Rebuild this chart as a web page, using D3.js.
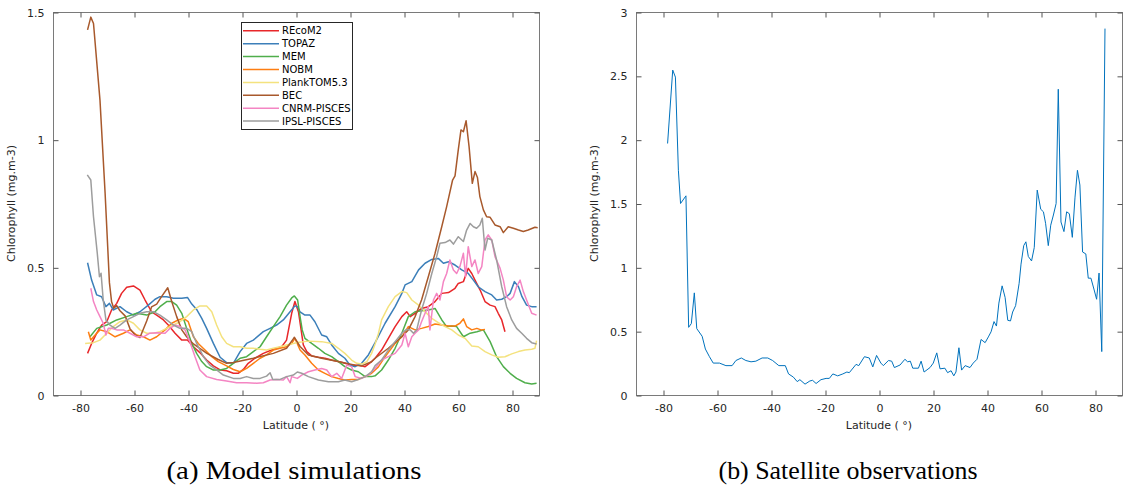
<!DOCTYPE html>
<html><head><meta charset="utf-8">
<script src="https://cdn.jsdelivr.net/npm/d3@7"></script>
<style>
html,body{margin:0;padding:0;background:#fff;}
svg{display:block;}
text{font-family:"DejaVu Sans",sans-serif;}
</style></head>
<body>
<svg id="chart" width="1126" height="493"></svg>
<script>
// ---------- data ----------
const seriesNames = ["REcoM2","TOPAZ","MEM","NOBM","PlankTOM5.3","BEC","CNRM-PISCES","IPSL-PISCES"];
const seriesColors = ["#e8272a","#3c7fb9","#4fae4b","#fd7e12","#f4e27e","#a8592c","#f485c3","#9d9d9d"];
const xTicks = [-80,-60,-40,-20,0,20,40,60,80];
const yTicksLeft = [0,0.5,1,1.5];
const yTicksRight = [0,0.5,1,1.5,2,2.5,3];
const yLabel = "Chlorophyll (mg.m-3)";
const xLabel = "Latitude ( °)";
const captions = ["(a) Model simulations","(b) Satellite observations"];

const RECOM2 = [[-77.2,.163],[-75.7,.202],[-73.8,.242],[-72,.274],[-70.1,.287],[-68.3,.333],[-66.4,.359],[-64.6,.398],[-62.7,.422],[-60.2,.427],[-57.8,.411],[-55.9,.372],[-53.5,.326],[-51.6,.313],[-49.1,.294],[-47.3,.274],[-44.8,.242],[-42.3,.215],[-40.2,.215],[-38,.189],[-35.6,.166],[-33.1,.137],[-30.6,.114],[-28.1,.098],[-25.7,.095],[-23.2,.085],[-21.4,.085],[-19.5,.1],[-17.7,.124],[-15.2,.144],[-12.1,.163],[-8.4,.179],[-5.3,.189],[-3.5,.215],[-1.6,.32],[-0.4,.366],[0.9,.326],[1.9,.255],[2.7,.196],[4,.17],[5.8,.153],[8.3,.148],[10.7,.144],[13.2,.137],[15.7,.131],[18.1,.124],[20.6,.117],[23.1,.117],[25.6,.111],[28,.131],[29.3,.144],[31.7,.176],[34.2,.222],[36.7,.268],[39.2,.307],[41,.326],[42.3,.307],[44.1,.32],[46.5,.339],[49,.346],[51.5,.366],[54,.398],[56.5,.401],[58.9,.418],[60.1,.437],[62,.444],[63.8,.496],[65.1,.476],[66.3,.45],[68.2,.411],[70,.366],[71.9,.352],[73.7,.346],[74.9,.32],[76.2,.294],[77.4,.248]];
const TOPAZ = [[-77.2,.518],[-75.7,.45],[-73.8,.392],[-72,.385],[-70.4,.346],[-69.1,.359],[-67.7,.333],[-65.2,.346],[-62.7,.326],[-60.2,.313],[-57.8,.326],[-54.7,.352],[-52.2,.375],[-50.4,.385],[-47.9,.385],[-45.4,.379],[-42.3,.379],[-40.2,.382],[-38.6,.356],[-36.8,.335],[-34.9,.3],[-33.1,.261],[-30.6,.202],[-28.1,.148],[-25.7,.127],[-23.2,.124],[-20.7,.17],[-18.3,.202],[-15.8,.215],[-12.1,.248],[-9.6,.261],[-7.2,.274],[-4.7,.294],[-2.2,.326],[-0.4,.349],[0.5,.346],[1.5,.326],[3.3,.313],[5.2,.313],[7,.287],[9.5,.235],[11.4,.228],[13.2,.196],[15.7,.163],[18.1,.144],[20,.117],[21.9,.111],[24.3,.124],[26.8,.157],[29.3,.205],[33,.281],[36.7,.346],[39.2,.398],[40.4,.431],[42.9,.444],[45.4,.49],[47.8,.516],[50.3,.531],[52.7,.535],[54.6,.516],[56.5,.522],[58.9,.509],[61.4,.49],[63.8,.476],[65.7,.45],[67.5,.424],[70,.405],[72.5,.392],[74.3,.372],[76.2,.375],[78,.385],[79.3,.398],[80.9,.444],[82.4,.424],[83.7,.385],[85.4,.352],[87.3,.346],[89.1,.346]];
const MEM = [[-76.3,.228],[-73.8,.261],[-70.1,.274],[-66.4,.294],[-62.7,.307],[-59,.32],[-55.3,.313],[-52.2,.326],[-50.4,.346],[-47.9,.366],[-46,.366],[-44.2,.352],[-42.3,.32],[-40.5,.261],[-38.6,.202],[-36.8,.163],[-34.9,.131],[-33.1,.111],[-30.6,.098],[-28.1,.098],[-25.7,.104],[-23.2,.124],[-20.7,.144],[-18.3,.15],[-15.8,.17],[-13.3,.189],[-10.9,.228],[-8.4,.268],[-5.9,.307],[-3.5,.352],[-1.6,.38],[-0.6,.388],[0.6,.372],[1.5,.307],[2.3,.255],[3.3,.222],[5.8,.202],[8.3,.183],[10.7,.163],[13.2,.15],[15.7,.131],[18.1,.111],[20.6,.098],[23.1,.091],[25.6,.072],[28,.072],[29.3,.075],[31.7,.098],[34.2,.137],[36.7,.183],[39.2,.242],[41.6,.307],[44.1,.326],[46.5,.33],[49,.333],[51.5,.339],[54,.294],[55.8,.268],[57.7,.27],[59.5,.268],[62,.228],[64.5,.242],[67,.248],[69.4,.255],[71.9,.209],[74.3,.15],[76.8,.111],[79.3,.085],[81.7,.065],[84.8,.048],[87.3,.043],[89.1,.046]];
const NOBM = [[-76.9,.248],[-76,.215],[-74.4,.235],[-72.6,.255],[-70.1,.248],[-67,.228],[-63.9,.242],[-61.5,.255],[-59,.235],[-56.5,.228],[-54.1,.215],[-51.6,.228],[-48.5,.255],[-46,.281],[-43.6,.294],[-41.7,.3],[-39.9,.287],[-38,.228],[-36.2,.202],[-33.7,.176],[-31.2,.15],[-28.8,.131],[-25.7,.114],[-23.2,.1],[-20.7,.091],[-18.3,.104],[-15.8,.124],[-13.3,.144],[-10.9,.157],[-8.4,.176],[-5.9,.183],[-3.5,.189],[-1.6,.202],[-0.4,.222],[1.5,.176],[3.3,.157],[5.8,.124],[8.3,.098],[10.7,.085],[13.2,.072],[15.7,.065],[18.1,.059],[20.6,.061],[23.1,.061],[25.6,.072],[28,.085],[30.5,.11],[33,.15],[36.7,.202],[39.2,.228],[41.6,.268],[44.1,.255],[46.5,.261],[49,.268],[51.5,.278],[54,.274],[56.5,.27],[58.9,.27],[60.7,.281],[62,.298],[63.2,.268],[65.1,.255],[67,.261],[68.5,.255],[70,.257]];
const PLANKTOM = [[-78.1,.202],[-75,.205],[-72.6,.215],[-70.1,.242],[-67.7,.268],[-65.2,.287],[-62.7,.294],[-60.2,.281],[-57.8,.255],[-55.3,.242],[-52.8,.242],[-50.4,.248],[-47.9,.261],[-45.4,.274],[-43,.287],[-40.5,.307],[-38,.333],[-35.6,.349],[-33.1,.349],[-31.2,.326],[-29.4,.274],[-27.5,.228],[-25.7,.202],[-23.2,.189],[-20.7,.189],[-18.3,.183],[-15.8,.183],[-13.3,.179],[-10.9,.176],[-8.4,.183],[-5.9,.189],[-3.5,.196],[-1,.202],[0.5,.206],[4.6,.211],[9.5,.209],[13.2,.202],[15.7,.183],[18.1,.163],[20.6,.137],[22.5,.124],[24.3,.121],[26.2,.13],[28,.163],[29.3,.2],[30.5,.24],[31.7,.294],[34.2,.346],[36.7,.385],[39.2,.405],[41,.401],[42.9,.372],[45.4,.352],[47.8,.326],[50.3,.3],[52.7,.283],[55.2,.268],[57.7,.255],[60.1,.235],[62.6,.222],[65.1,.192],[67.5,.189],[70,.17],[72.5,.157],[74.9,.148],[77.4,.15],[79.9,.161],[82.4,.17],[84.8,.176],[87.3,.179],[88.5,.183],[89.1,.213]];
const BEC = [[-77.2,1.43],[-76,1.48],[-75,1.455],[-72.6,1.155],[-70.7,.79],[-69.1,.44],[-68.3,.365],[-67.5,.34],[-66.4,.35],[-65.2,.33],[-63.3,.31],[-61.5,.26],[-59.6,.235],[-57.8,.225],[-55.3,.29],[-53.5,.345],[-51.6,.356],[-49.8,.385],[-47.5,.42],[-46,.365],[-44.2,.307],[-42.3,.255],[-40.5,.228],[-38,.2],[-33,.163],[-29,.14],[-25.7,.124],[-23.2,.127],[-15.8,.144],[-8.4,.163],[-3.5,.183],[-1,.22],[-0.6,.226],[1.5,.19],[4.6,.157],[9.5,.144],[16.9,.128],[21.9,.117],[24.3,.114],[28,.13],[29.3,.144],[34.2,.183],[39.2,.228],[41.6,.255],[44.1,.307],[46.5,.372],[49,.463],[51.5,.555],[54,.66],[55.8,.738],[58,.842],[58.9,.858],[60.1,.96],[61.1,1.038],[62,1.031],[63,1.074],[64.1,.973],[65.3,.829],[66.3,.875],[67.2,.852],[68.1,.777],[69.4,.725],[70.6,.698],[71.9,.696],[73.7,.666],[75.6,.659],[76.8,.636],[78.6,.659],[80.5,.653],[82.4,.646],[84.2,.64],[86,.646],[88.5,.657],[89.5,.655]];
const CNRM = [[-76,.418],[-75,.366],[-73.8,.333],[-72.6,.307],[-71.4,.281],[-70.4,.235],[-69.5,.261],[-68.3,.261],[-66.4,.255],[-63.9,.255],[-61.5,.242],[-59,.228],[-56.5,.228],[-54.1,.242],[-51.6,.244],[-48.5,.242],[-46.7,.261],[-44.8,.274],[-43,.268],[-41.1,.255],[-39.3,.209],[-37.4,.15],[-35.6,.098],[-33.1,.072],[-29.4,.061],[-25.7,.055],[-22,.048],[-18.3,.048],[-14.6,.046],[-12.1,.048],[-9.6,.059],[-7.2,.061],[-4.7,.059],[-3.5,.072],[-2.2,.048],[-1.6,.072],[0.5,.065],[2.1,.078],[4.6,.091],[7,.098],[9.5,.104],[11.4,.098],[13.2,.072],[15.1,.085],[16.9,.065],[18.8,.117],[20.6,.111],[21.9,.072],[24.3,.065],[26.8,.078],[29.3,.105],[31.7,.137],[34.2,.15],[36.7,.163],[39.2,.196],[40.4,.242],[41.6,.189],[42.9,.228],[44.1,.242],[45.4,.255],[46.5,.287],[47.8,.32],[49,.346],[49.6,.255],[50.9,.372],[52.1,.398],[53.3,.372],[54.6,.444],[55.8,.476],[57,.529],[58.3,.49],[59.5,.476],[60.7,.503],[62,.555],[62.8,.463],[63.8,.581],[65.1,.503],[66.3,.529],[67.5,.476],[68.8,.503],[70,.607],[71.2,.627],[72.5,.607],[73.7,.542],[75.6,.496],[76.8,.45],[78,.385],[79.3,.372],[80.5,.385],[81.7,.424],[83,.45],[84.2,.405],[85.4,.372],[87.3,.32],[89.1,.313]];
const IPSL = [[-77.3,.862],[-76,.842],[-75,.698],[-73.6,.555],[-72.8,.463],[-72.2,.477],[-71.4,.372],[-70.4,.294],[-68.9,.274],[-67,.261],[-65.2,.274],[-62.7,.294],[-60.2,.307],[-57.8,.32],[-55.3,.326],[-52.8,.326],[-50.4,.313],[-47.9,.294],[-45.4,.274],[-43,.261],[-40.5,.261],[-38.6,.248],[-36.8,.202],[-34.3,.15],[-31.9,.117],[-29.4,.098],[-26.9,.078],[-23.2,.065],[-20.7,.065],[-18.3,.072],[-15.8,.065],[-13.3,.065],[-10.9,.074],[-9.6,.087],[-8.6,.061],[-5.9,.061],[-3.5,.072],[-1,.078],[0.5,.09],[2.1,.085],[4.6,.072],[8.3,.059],[12,.052],[15.7,.052],[18.1,.059],[20.6,.052],[23.1,.061],[25.6,.072],[28,.091],[29.3,.115],[31.7,.137],[34.2,.176],[36.7,.209],[39.2,.242],[41,.257],[42.3,.255],[43.5,.242],[44.7,.255],[46.5,.333],[48.4,.398],[50.3,.476],[52.1,.542],[53.3,.594],[55.2,.597],[57,.607],[58.3,.591],[60.1,.62],[62,.601],[63.2,.646],[64.5,.672],[65.7,.659],[66.9,.653],[68.1,.666],[69,.692],[70,.568],[71,.614],[72.5,.607],[74.3,.529],[76.2,.424],[78,.346],[79.9,.294],[81.7,.261],[83.6,.242],[85.4,.222],[87.3,.205],[89.1,.2]];

const satLat = [-78.3,-76.4,-75.4,-74.3,-73.5,-71.5,-70.5,-69.5,-68.4,-67.5,-65.5,-64.3,-62.8,-61.4,-59.1,-56.7,-54.4,-53,-51,-49.3,-47.4,-45.6,-43.3,-41.2,-39.4,-37.1,-34.7,-33.5,-31.7,-30.3,-29.3,-27.4,-25.6,-24.6,-23.3,-21.5,-19.6,-18.4,-17.1,-15.3,-13.4,-11.9,-11,-8.5,-7.5,-5.4,-3.6,-2.3,-0.9,0.7,1.6,3.5,4.7,5.7,7.8,9.6,10.6,11.6,12.5,14.6,15.6,16.7,18.9,20.1,21.4,22.6,24.4,25.4,26.7,27.7,28.5,29.6,30.6,31.9,33.7,34.9,36.3,37.8,39.3,40.5,41.5,42.6,43.5,44.4,45.6,46.7,47.7,48.7,49.5,50.6,51.9,52.6,53.6,54.4,55.3,56.5,57.5,58.6,59.9,60.9,61.7,62.7,63.6,64.6,65.6,66.4,67.4,68.5,69.5,70.5,71.6,72.6,73.5,74.4,75.4,76.6,77.5,78.5,79.6,80.6,81.5,82.5,83.7];
const satVal = [1.97,2.545,2.49,1.76,1.50,1.56,0.53,0.56,0.80,0.52,0.46,0.36,0.30,0.25,0.25,0.23,0.23,0.27,0.29,0.27,0.26,0.265,0.29,0.29,0.27,0.23,0.23,0.165,0.14,0.105,0.12,0.085,0.11,0.115,0.09,0.12,0.13,0.13,0.165,0.15,0.165,0.18,0.175,0.24,0.23,0.30,0.29,0.22,0.31,0.25,0.23,0.27,0.265,0.215,0.235,0.28,0.26,0.265,0.21,0.21,0.265,0.18,0.215,0.25,0.33,0.205,0.21,0.175,0.19,0.15,0.18,0.37,0.195,0.23,0.215,0.25,0.28,0.435,0.41,0.455,0.495,0.575,0.54,0.72,0.855,0.765,0.585,0.58,0.65,0.70,0.875,1.025,1.17,1.20,1.085,1.05,1.155,1.605,1.455,1.435,1.345,1.17,1.33,1.41,1.50,2.395,1.355,1.28,1.435,1.42,1.235,1.55,1.76,1.645,1.12,1.105,0.915,0.915,0.83,0.75,0.955,0.34,2.87];

const modelSeries = [RECOM2, TOPAZ, MEM, NOBM, PLANKTOM, BEC, CNRM, IPSL];

// ---------- drawing ----------
const svg = d3.select("#chart");
const axisColor = "#262626";
const plotTop = 12, plotBottom = 395;
const fmtNum = d => String(d);

function drawAxes(xs, ys, yTicks) {
  const g = svg.append("g");
  const [x0, x1] = xs.range();
  g.append("rect").attr("x", x0 + 0.5).attr("y", plotTop + 0.5)
    .attr("width", x1 - x0).attr("height", plotBottom - plotTop)
    .attr("fill", "none").attr("stroke", "#7a7a7a").attr("stroke-width", 1);
  const bx = d3.axisBottom(xs).tickValues(xTicks).tickSize(-5).tickPadding(9).tickFormat(fmtNum);
  const tx = d3.axisTop(xs).tickValues(xTicks).tickSize(-5).tickFormat("");
  const ly = d3.axisLeft(ys).tickValues(yTicks).tickSize(-5).tickPadding(9).tickFormat(fmtNum);
  const ry = d3.axisRight(ys).tickValues(yTicks).tickSize(-5).tickFormat("");
  [[bx, `translate(0.5,${plotBottom + 0.5})`], [tx, `translate(0.5,${plotTop + 0.5})`],
   [ly, `translate(${x0 + 0.5},0.5)`], [ry, `translate(${x1 + 0.5},0.5)`]].forEach(([ax, tr]) => {
    const a = g.append("g").attr("transform", tr).call(ax);
    a.select(".domain").remove();
    a.selectAll("line").attr("stroke", "#555");
    a.selectAll("text").attr("fill", axisColor).style("font-size", "11px").style("font-family", "DejaVu Sans");
  });
  const cx = (x0 + x1) / 2;
  g.append("text").attr("x", cx).attr("y", 429).attr("text-anchor", "middle")
    .attr("fill", axisColor).style("font-size", "11px").text(xLabel);
  g.append("text").attr("transform", `translate(${x0 - 38},${(plotTop + plotBottom) / 2}) rotate(-90)`)
    .attr("text-anchor", "middle").attr("fill", axisColor).style("font-size", "11px").text(yLabel);
}

// Left panel
const xL = d3.scaleLinear().domain([-90, 90]).range([53, 539]);
const yL = d3.scaleLinear().domain([0, 1.5]).range([plotBottom, plotTop]);
drawAxes(xL, yL, yTicksLeft);
const lineL = d3.line().x(d => xL(d[0])).y(d => yL(d[1]));
modelSeries.forEach((s, i) => {
  svg.append("path").datum(s).attr("d", lineL).attr("fill", "none")
    .attr("stroke", seriesColors[i]).attr("stroke-width", 1.5).attr("stroke-linejoin", "round");
});

// Legend
const leg = svg.append("g");
leg.append("rect").attr("x", 241.5).attr("y", 22.5).attr("width", 111).attr("height", 107)
  .attr("fill", "#fff").attr("stroke", "#262626").attr("stroke-width", 1);
seriesNames.forEach((n, i) => {
  const yy = 30.8 + i * 12.9;
  leg.append("line").attr("x1", 243).attr("x2", 279).attr("y1", yy).attr("y2", yy)
    .attr("stroke", seriesColors[i]).attr("stroke-width", 1.5);
  leg.append("text").attr("x", 282).attr("y", yy + 3.6).attr("fill", "#000")
    .style("font-size", "10px").text(n);
});

// Right panel
const xR = d3.scaleLinear().domain([-90, 90]).range([636, 1122]);
const yR = d3.scaleLinear().domain([0, 3]).range([plotBottom, plotTop]);
drawAxes(xR, yR, yTicksRight);
const satData = satLat.map((la, i) => [la, satVal[i]]);
svg.append("path").datum(satData).attr("d", d3.line().x(d => xR(d[0])).y(d => yR(d[1])))
  .attr("fill", "none").attr("stroke", "#0072bd").attr("stroke-width", 1).attr("stroke-linejoin", "round");

// Captions
[[294, captions[0], 255], [848, captions[1], 259]].forEach(([cx, t, w]) => {
  svg.append("text").attr("x", cx).attr("y", 479).attr("text-anchor", "middle")
    .attr("textLength", w).attr("lengthAdjust", "spacingAndGlyphs")
    .style("font-family", "'Liberation Serif','DejaVu Serif',serif").style("font-size", "26px")
    .attr("fill", "#000").text(t);
});
</script>
</body></html>
